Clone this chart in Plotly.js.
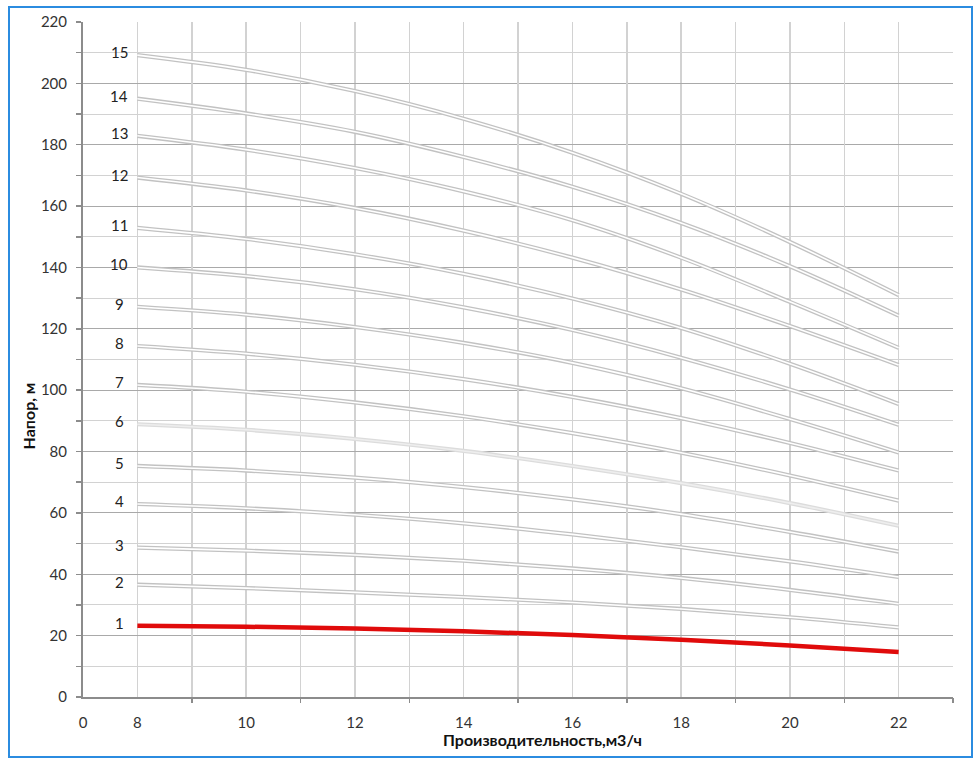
<!DOCTYPE html>
<html>
<head>
<meta charset="utf-8">
<script src="https://cdn.plot.ly/plotly-3.0.1.min.js"></script>
<style>
  html, body { margin: 0; padding: 0; background: #ffffff; }
  #wrap { position: relative; width: 980px; height: 765px; }
  #chart { position: absolute; left: 0; top: 0; width: 980px; height: 765px; }
  #frame { position: absolute; left: 8px; top: 6px; width: 961px; height: 748px;
           border: 2px solid #2b8ce0; pointer-events: none; }
</style>
</head>
<body>
<div id="wrap">
  <div id="chart"></div>
  <div id="frame"></div>
</div>
<script>
// Flow rate, m3/h
const flowValues = [8, 10, 12, 14, 16, 18, 20, 22];

// Head, m, for each number of stages (curve label 1..15)
const head1  = [23.2, 22.9, 22.3, 21.4, 20.2, 18.7, 16.8, 14.7];
const head2  = [36.6, 35.5, 34.1, 32.6, 30.8, 28.7, 26.0, 22.7];
const head3  = [48.7, 47.7, 46.3, 44.4, 41.9, 38.8, 34.9, 30.4];
const head4  = [62.9, 61.5, 59.4, 56.6, 53.0, 48.8, 44.2, 39.1];
const head5  = [75.3, 73.8, 71.5, 68.4, 64.4, 59.6, 53.8, 47.4];
const head6  = [88.9, 87.1, 84.1, 80.2, 75.3, 69.7, 63.2, 55.8];
const head7  = [101.7, 99.5, 96.0, 91.5, 86.0, 79.6, 72.2, 64.0];
const head8  = [114.4, 111.9, 108.3, 103.6, 97.8, 90.9, 82.8, 73.8];
const head9  = [127.2, 124.6, 120.6, 115.4, 108.9, 100.6, 90.6, 79.7];
const head10 = [140.0, 137.2, 132.9, 127.0, 119.6, 110.6, 100.2, 88.7];
const head11 = [152.9, 149.3, 144.3, 137.9, 129.9, 120.3, 108.6, 95.5];
const head12 = [169.3, 165.1, 159.4, 152.0, 143.2, 132.8, 120.9, 108.2];
const head13 = [182.9, 178.4, 172.4, 164.8, 155.4, 143.2, 128.8, 113.8];
const head14 = [195.0, 190.2, 184.2, 176.0, 166.3, 154.5, 140.4, 124.3];
const head15 = [209.2, 204.4, 197.5, 188.5, 177.4, 164.0, 148.3, 131.0];

const curveLabels = ["1","2","3","4","5","6","7","8","9","10","11","12","13","14","15"];

// Axis ticks
const xTickVals = [7, 8, 10, 12, 14, 16, 18, 20, 22];
const xTickText = ["0", "8", "10", "12", "14", "16", "18", "20", "22"];
const xMinorVals = [9, 11, 13, 15, 17, 19, 21, 23];

const xTitle = "Производительность,м3/ч";
const yTitle = "Напор, м";

const allHeads = [head1, head2, head3, head4, head5, head6, head7, head8,
                  head9, head10, head11, head12, head13, head14, head15];

const FONT = "Lato, 'Noto Sans', 'Liberation Sans', sans-serif";

const traces = [];
// dummy trace to host the secondary x axis (odd tick marks / grid)
traces.push({x: [7, 23], y: [null, null], xaxis: 'x2', yaxis: 'y', mode: 'lines',
             showlegend: false, hoverinfo: 'skip'});

allHeads.forEach((h, i) => {
  if (i === 0) {
    traces.push({x: flowValues, y: h, mode: 'lines',
      line: {color: '#e00b0b', width: 4.5, shape: 'spline', smoothing: 1},
      showlegend: false, hoverinfo: 'skip'});
  } else {
    const light = (i === 5);
    traces.push({x: flowValues, y: h, mode: 'lines',
      line: {color: light ? '#dcdcdc' : '#c2c2c2', width: 4.2, shape: 'spline', smoothing: 1},
      showlegend: false, hoverinfo: 'skip'});
    traces.push({x: flowValues, y: h, mode: 'lines',
      line: {color: light ? '#eeeeee' : '#ffffff', width: 1.6, shape: 'spline', smoothing: 1},
      showlegend: false, hoverinfo: 'skip'});
  }
});

const annotations = allHeads.map((h, i) => ({
  x: flowValues[0], y: h[0], xref: 'x', yref: 'y',
  text: curveLabels[i], showarrow: false,
  xanchor: 'center', yanchor: 'middle', xshift: -18, yshift: 3,
  font: {family: FONT, size: 15, color: '#222222'}
}));

annotations.push({
  x: -0.063, y: 0.416, xref: 'paper', yref: 'paper', text: yTitle, textangle: -90,
  showarrow: false, xanchor: 'center', yanchor: 'middle',
  font: {family: FONT, size: 16, color: '#111111', weight: 'bold'}
});
annotations.push({
  x: 0.5276, y: -0.063, xref: 'paper', yref: 'paper', text: xTitle,
  showarrow: false, xanchor: 'center', yanchor: 'middle',
  font: {family: FONT, size: 16, color: '#111111', weight: 'bold'}
});

const layout = {
  width: 980, height: 765,
  margin: {l: 83, r: 27, t: 22, b: 68, pad: 0},
  paper_bgcolor: '#ffffff', plot_bgcolor: '#ffffff',
  showlegend: false,
  font: {family: FONT, size: 15, color: '#333333'},
  xaxis: {
    range: [7, 23], tickmode: 'array', tickvals: xTickVals, ticktext: xTickText,
    ticks: '', showgrid: true, gridcolor: '#d2d2d2', gridwidth: 1.5,
    zeroline: false, showline: true, linecolor: '#8c8c8c', linewidth: 2,
    ticklabelstandoff: 11,
    tickfont: {family: FONT, size: 15, color: '#333333'}, fixedrange: true
  },
  xaxis2: {
    range: [7, 23], overlaying: 'x', anchor: 'y', side: 'bottom',
    tickmode: 'array', tickvals: xMinorVals, ticks: 'outside', ticklen: 5,
    tickcolor: '#8c8c8c', tickwidth: 1.5, showticklabels: false,
    showgrid: true, gridcolor: '#d2d2d2', gridwidth: 1.5,
    zeroline: false, showline: false, fixedrange: true
  },
  yaxis: {
    range: [0, 220], tick0: 0, dtick: 20, ticks: 'outside', ticklen: 5,
    tickcolor: '#8c8c8c', tickwidth: 1.5,
    showgrid: true, gridcolor: '#a9a9a9', gridwidth: 1,
    minor: {dtick: 10, showgrid: true, gridcolor: '#d2d2d2', gridwidth: 1,
            ticks: 'outside', ticklen: 5, tickcolor: '#8c8c8c'},
    zeroline: false, showline: true, linecolor: '#8c8c8c', linewidth: 2,
    ticklabelstandoff: 6,
    tickfont: {family: FONT, size: 15, color: '#333333'}, fixedrange: true
  },
  annotations: annotations
};

Plotly.newPlot('chart', traces, layout, {displayModeBar: false, staticPlot: true});
</script>
</body>
</html>
